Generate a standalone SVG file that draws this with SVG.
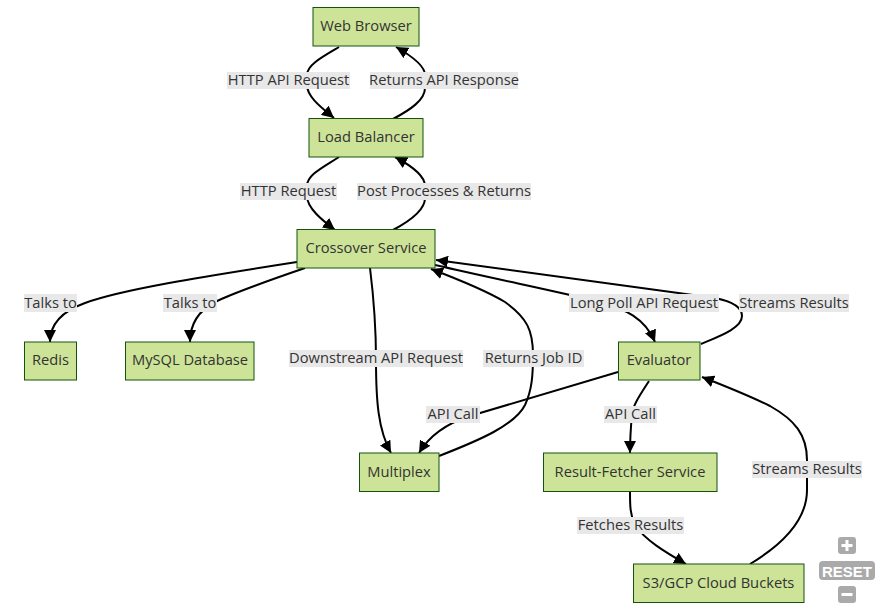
<svg xmlns="http://www.w3.org/2000/svg" width="885" height="611" viewBox="0 0 885 611">
<style>
.node rect{fill:#cde498;stroke:#13540c;stroke-width:1}
text{font-family:"Open Sans","Noto Sans","DejaVu Sans",sans-serif;font-size:14.7px;fill:#333;text-anchor:middle;dominant-baseline:central}
.edge{fill:none;stroke:#000;stroke-width:2;marker-end:url(#arrow)}
.lbl rect{fill:#e8e8e8}
.ctl{fill:#aaa}
.ctl-w{fill:#fff}
.reset{font-family:"Liberation Sans",Arial,sans-serif;font-weight:bold;font-size:15px;fill:#fff}
</style>
<defs>
<marker id="arrow" viewBox="0 0 10 10" refX="10" refY="5" markerWidth="12" markerHeight="12" markerUnits="userSpaceOnUse" orient="auto">
<path d="M0,0 L10,5 L0,10 z" fill="#000"/>
</marker>
</defs>
<rect width="885" height="611" fill="#fff"/>
<g id="connectors">
<path class="edge" d="M339,47 C322,57 307,65 307,75 L307,85 C307,97 322,108 334,118"/>
<path class="edge" d="M393,119 C410,110 425,100 425,88 L425,75 C425,65 410,55 396,47"/>
<path class="edge" d="M339,157 C322,168 307,175 307,186 L307,196 C307,208 322,220 335,230"/>
<path class="edge" d="M393,230 C410,221 425,210 425,198 L425,186 C425,175 410,165 395,157"/>
<path class="edge" d="M297,262 C200,277 120,290 85,303 C60,312 50,325 50,342"/>
<path class="edge" d="M305,268 C270,280 235,292 215,302 C200,310 190,322 190,342"/>
<path class="edge" d="M370,268 C374,300 376,330 376,360 C376,400 378,430 391,453"/>
<path class="edge" d="M439,456 C480,440 515,425 525,405 C532,390 533,375 533,355 C533,330 527,318 505,302 C485,290 460,280 431,269"/>
<path class="edge" d="M618,372 L470,416 C445,424 428,438 419,453"/>
<path class="edge" d="M435,265 C500,280 560,292 600,302 C625,309 645,318 655,342"/>
<path class="edge" d="M701,344 C720,336 742,328 742,316 C742,306 730,301 715,298 L436,260"/>
<path class="edge" d="M649,381 C640,395 633,405 632,414 C631,425 630,440 630,453"/>
<path class="edge" d="M630,492 C630,505 630,515 635,525 C645,540 665,552 686,564"/>
<path class="edge" d="M750,564 C790,540 807,515 807,490 L807,460 C807,435 795,420 770,406 C750,396 725,386 702,377"/>
</g>
<g id="edge-labels">
<g class="lbl"><rect x="227" y="72" width="123" height="17"/><text x="288.5" y="79">HTTP API Request</text></g>
<g class="lbl"><rect x="370" y="72" width="148" height="17"/><text x="444" y="79">Returns API Response</text></g>
<g class="lbl"><rect x="240" y="183" width="97" height="17"/><text x="288.5" y="190">HTTP Request</text></g>
<g class="lbl"><rect x="357" y="183" width="174" height="17"/><text x="444" y="190">Post Processes &amp; Returns</text></g>
<g class="lbl"><rect x="24" y="294" width="53" height="18"/><text x="50.5" y="301.5">Talks to</text></g>
<g class="lbl"><rect x="163" y="294" width="54" height="18"/><text x="190" y="301.5">Talks to</text></g>
<g class="lbl"><rect x="569" y="294" width="150" height="18"/><text x="644" y="301.5">Long Poll API Request</text></g>
<g class="lbl"><rect x="739" y="294" width="110" height="18"/><text x="794" y="301.5">Streams Results</text></g>
<g class="lbl"><rect x="289" y="350" width="174" height="17"/><text x="376" y="357">Downstream API Request</text></g>
<g class="lbl"><rect x="483" y="350" width="101" height="17"/><text x="533.5" y="357">Returns Job ID</text></g>
<g class="lbl"><rect x="426" y="406" width="54" height="17"/><text x="453" y="413">API Call</text></g>
<g class="lbl"><rect x="604" y="406" width="53" height="17"/><text x="630.5" y="413">API Call</text></g>
<g class="lbl"><rect x="752" y="461" width="110" height="17"/><text x="807" y="468">Streams Results</text></g>
<g class="lbl"><rect x="577" y="517" width="107" height="17"/><text x="630.5" y="524">Fetches Results</text></g>
</g>
<g id="web-browser" class="node"><rect x="313" y="7.5" width="106" height="38.5"/><text x="366" y="25">Web Browser</text></g>
<g id="load-balancer" class="node"><rect x="309" y="118.5" width="114" height="38.5"/><text x="366" y="136">Load Balancer</text></g>
<g id="crossover-service" class="node"><rect x="297" y="229.5" width="138" height="38.5"/><text x="366" y="247">Crossover Service</text></g>
<g id="redis" class="node"><rect x="24.5" y="342" width="52" height="38"/><text x="50.5" y="359">Redis</text></g>
<g id="mysql-database" class="node"><rect x="125.5" y="342" width="128.5" height="38"/><text x="190" y="359">MySQL Database</text></g>
<g id="evaluator" class="node"><rect x="618.5" y="342" width="81.5" height="38"/><text x="659" y="359">Evaluator</text></g>
<g id="multiplex" class="node"><rect x="359.5" y="453" width="79.5" height="38.5"/><text x="399" y="470.5">Multiplex</text></g>
<g id="result-fetcher-service" class="node"><rect x="543.5" y="453" width="173.5" height="38.5"/><text x="630" y="470.5">Result-Fetcher Service</text></g>
<g id="s3-gcp-cloud-buckets" class="node"><rect x="633.5" y="564" width="170.5" height="38.5"/><text x="718.5" y="581.5">S3/GCP Cloud Buckets</text></g>
<g id="zoom-controls">
<rect class="ctl" x="838" y="537" width="18" height="17" rx="3"/>
<rect class="ctl-w" x="841.5" y="544" width="11" height="3"/>
<rect class="ctl-w" x="845.5" y="540" width="3" height="11"/>
<rect class="ctl" x="819" y="561" width="56" height="19" rx="4"/>
<text class="reset" x="847" y="571">RESET</text>
<rect class="ctl" x="838" y="586" width="18" height="17" rx="3"/>
<rect class="ctl-w" x="841.5" y="593" width="11" height="3"/>
</g>
</svg>
